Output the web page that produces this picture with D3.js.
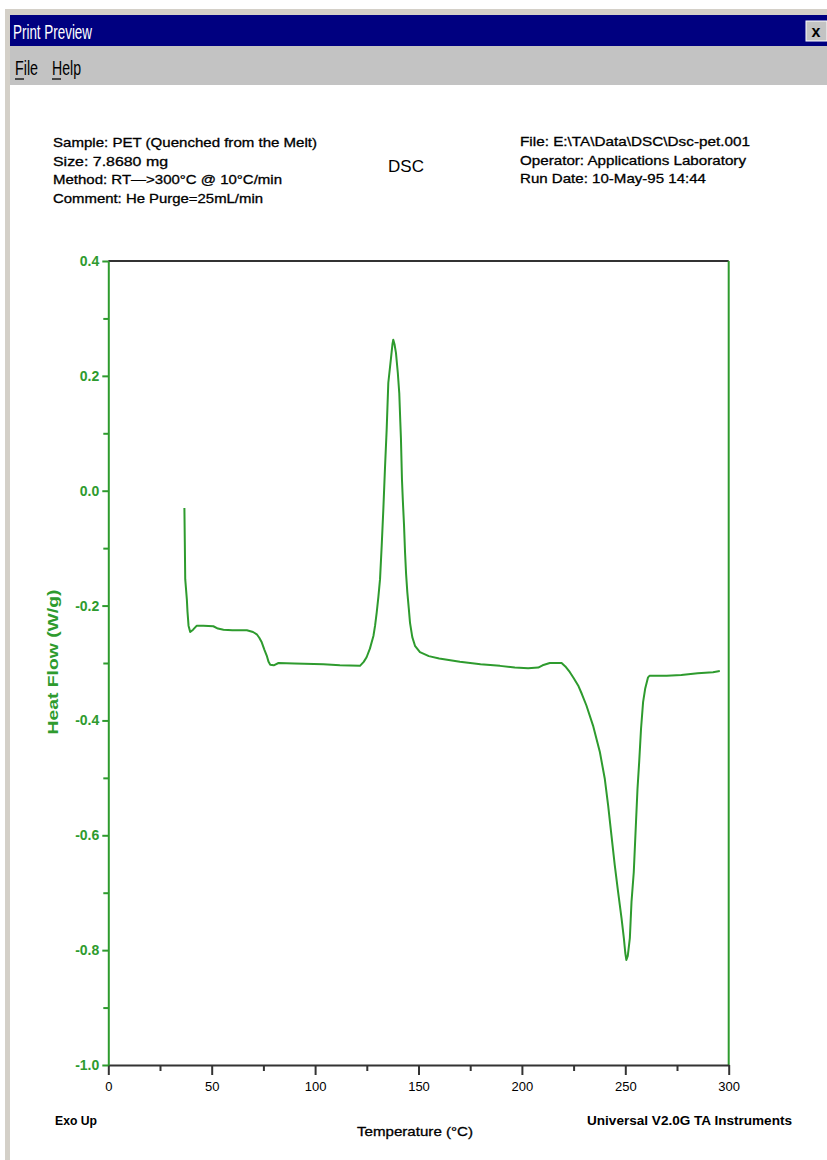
<!DOCTYPE html>
<html>
<head>
<meta charset="utf-8">
<script src="https://cdn.jsdelivr.net/npm/d3@7"></script>
<style>
  html, body { margin: 0; padding: 0; background: #fff; }
  svg { display: block; }
  text { font-family: "Liberation Sans", Arial, sans-serif; }
</style>
</head>
<body>
<div id="chart"></div>
<script>
// ---- data ----
const temperature = [36.8, 37.0, 37.2, 38.0, 38.3, 38.8, 39.6, 41.0, 42.8, 46.0, 50.8, 53.0, 55.7, 60.0, 67.0, 70.0, 71.8, 73.0, 74.2, 75.5, 76.6, 77.5, 78.3, 80.0, 82.3, 90.0, 104.0, 112.0, 121.7, 123.5, 124.9, 126.5, 128.2, 129.0, 129.8, 130.6, 131.4, 132.2, 133.0, 133.8, 134.6, 135.4, 136.7, 137.4, 137.8, 138.4, 139.1, 140.0, 140.7, 141.2, 141.5, 142.0, 142.4, 143.0, 143.5, 144.0, 144.6, 145.3, 145.9, 147.0, 148.3, 150.7, 155, 160, 170, 180, 189.4, 196.6, 203, 207.9, 210, 213.5, 219.2, 221, 223.2, 225, 227.2, 229, 231.2, 234.4, 237.7, 240.1, 241.7, 243.3, 244.9, 246.5, 248.2, 249.3, 250.0, 250.5, 251.2, 252.2, 253.0, 254.1, 255.1, 255.9, 256.7, 257.6, 258.6, 259.6, 261.0, 261.8, 270, 277.1, 285, 292.4, 295.7];
const heatFlow = [-0.030, -0.090, -0.154, -0.190, -0.211, -0.235, -0.246, -0.242, -0.235, -0.235, -0.236, -0.240, -0.242, -0.243, -0.243, -0.246, -0.250, -0.256, -0.264, -0.277, -0.287, -0.298, -0.303, -0.304, -0.300, -0.301, -0.302, -0.304, -0.305, -0.298, -0.290, -0.275, -0.253, -0.235, -0.212, -0.185, -0.154, -0.096, -0.032, 0.040, 0.106, 0.188, 0.231, 0.255, 0.263, 0.255, 0.240, 0.205, 0.170, 0.120, 0.092, 0.020, -0.015, -0.060, -0.108, -0.145, -0.177, -0.205, -0.230, -0.255, -0.270, -0.281, -0.288, -0.292, -0.298, -0.302, -0.305, -0.308, -0.309, -0.308, -0.304, -0.300, -0.300, -0.306, -0.316, -0.326, -0.339, -0.354, -0.374, -0.409, -0.455, -0.502, -0.548, -0.600, -0.652, -0.698, -0.745, -0.779, -0.805, -0.817, -0.810, -0.779, -0.716, -0.664, -0.583, -0.519, -0.473, -0.415, -0.368, -0.345, -0.325, -0.322, -0.322, -0.321, -0.318, -0.316, -0.314];
const xTicks = [0, 50, 100, 150, 200, 250, 300];
const xMinorTicks = [25, 75, 125, 175, 225, 275];
const yTicks = [0.4, 0.2, 0.0, -0.2, -0.4, -0.6, -0.8, -1.0];
const yMinorTicks = [0.3, 0.1, -0.1, -0.3, -0.5, -0.7, -0.9];
const headerLeft = ["Sample: PET (Quenched from the Melt)", "Size:  7.8680 mg", "Method: RT\u2014>300\u00B0C @ 10\u00B0C/min", "Comment: He Purge=25mL/min"];
const headerRight = ["File: E:\\TA\\Data\\DSC\\Dsc-pet.001", "Operator: Applications Laboratory", "Run Date: 10-May-95 14:44"];

// ---- layout ----
const W = 827, H = 1160;
const green = "#2e9b2e";
const svg = d3.select("#chart").append("svg").attr("width", W).attr("height", H);

// window chrome
svg.append("rect").attr("x", 0).attr("y", 0).attr("width", W).attr("height", H).attr("fill", "#fff");
svg.append("rect").attr("x", 5).attr("y", 9).attr("width", W - 5).attr("height", 6).attr("fill", "#d4d0c8");
svg.append("rect").attr("x", 5).attr("y", 9).attr("width", 5).attr("height", H - 9).attr("fill", "#d4d0c8");
svg.append("rect").attr("x", 10).attr("y", 15).attr("width", W - 10).attr("height", 31).attr("fill", "#000080");
svg.append("rect").attr("x", 10).attr("y", 46).attr("width", W - 10).attr("height", 39).attr("fill", "#c3c3c3");
svg.append("text").attr("x", 13).attr("y", 39).attr("fill", "#fff").attr("font-size", 20)
  .attr("textLength", 79).attr("lengthAdjust", "spacingAndGlyphs").text("Print Preview");
// close button
svg.append("rect").attr("x", 806).attr("y", 21).attr("width", 21).attr("height", 20).attr("fill", "#c3c3c3")
  .attr("stroke", "#fff").attr("stroke-width", 1);
svg.append("text").attr("x", 816).attr("y", 37).attr("text-anchor", "middle").attr("font-size", 16)
  .attr("font-weight", "bold").attr("fill", "#000").text("x");
// menu
const menu = [{t: "File", x: 15, w: 23}, {t: "Help", x: 52, w: 29}];
menu.forEach(m => {
  svg.append("text").attr("x", m.x).attr("y", 75).attr("font-size", 20).attr("fill", "#000")
    .attr("textLength", m.w).attr("lengthAdjust", "spacingAndGlyphs").text(m.t);
  svg.append("line").attr("x1", m.x).attr("x2", m.x + 9).attr("y1", 79).attr("y2", 79)
    .attr("stroke", "#000").attr("stroke-width", 1.3);
});

// header texts
const leftW = [264, 115, 229, 210];
headerLeft.forEach((t, i) => {
  svg.append("text").attr("x", 53).attr("y", 147 + i * 18.5).attr("font-size", 13).attr("fill", "#000")
    .attr("stroke", "#000").attr("stroke-width", 0.3)
    .attr("textLength", leftW[i]).attr("lengthAdjust", "spacingAndGlyphs").text(t);
});
const rightW = [230, 226, 186];
headerRight.forEach((t, i) => {
  svg.append("text").attr("x", 520).attr("y", 146 + i * 18.5).attr("font-size", 13).attr("fill", "#000")
    .attr("stroke", "#000").attr("stroke-width", 0.3)
    .attr("textLength", rightW[i]).attr("lengthAdjust", "spacingAndGlyphs").text(t);
});
svg.append("text").attr("x", 406).attr("y", 172).attr("text-anchor", "middle").attr("font-size", 17)
  .attr("fill", "#000").text("DSC");

// scales
const x = d3.scaleLinear().domain([0, 300]).range([108.3, 728.7]);
const y = d3.scaleLinear().domain([-1.0, 0.4]).range([1065, 261]);

// axes frame: top and bottom dark, left and right green
svg.append("line").attr("x1", x(0)).attr("x2", x(300)).attr("y1", y(0.4)).attr("y2", y(0.4))
  .attr("stroke", "#333").attr("stroke-width", 2);
svg.append("line").attr("x1", x(300)).attr("x2", x(300)).attr("y1", y(0.4)).attr("y2", y(-1.0))
  .attr("stroke", green).attr("stroke-width", 2);

// bottom axis
const xAxis = svg.append("g").attr("transform", `translate(0,${y(-1.0)})`)
  .call(d3.axisBottom(x).tickValues(xTicks).tickFormat(d3.format("d")).tickSize(10).tickSizeOuter(0).tickPadding(7));
xAxis.select(".domain").attr("stroke", "#333").attr("stroke-width", 2);
xAxis.selectAll(".tick line").attr("stroke", "#333").attr("stroke-width", 2);
xAxis.selectAll(".tick text").attr("font-size", 13).attr("fill", "#000").attr("font-family", "Liberation Sans, Arial, sans-serif");
const xMinor = svg.append("g").attr("transform", `translate(0,${y(-1.0)})`)
  .call(d3.axisBottom(x).tickValues(xMinorTicks).tickFormat("").tickSize(6).tickSizeOuter(0));
xMinor.select(".domain").remove();
xMinor.selectAll(".tick line").attr("stroke", "#333").attr("stroke-width", 2);

// left axis
const yAxis = svg.append("g").attr("transform", `translate(${x(0)},0)`)
  .call(d3.axisLeft(y).tickValues(yTicks).tickFormat(d3.format(".1f")).tickSize(6).tickSizeOuter(0).tickPadding(3));
yAxis.select(".domain").attr("stroke", green).attr("stroke-width", 2);
yAxis.selectAll(".tick line").attr("stroke", green).attr("stroke-width", 2);
yAxis.selectAll(".tick text").attr("font-size", 14).attr("fill", green).attr("font-weight", "bold")
  .attr("font-family", "Liberation Sans, Arial, sans-serif")
  .text(d => d3.format(".1f")(d).replace("\u2212", "-"));
const yMinor = svg.append("g").attr("transform", `translate(${x(0)},0)`)
  .call(d3.axisLeft(y).tickValues(yMinorTicks).tickFormat("").tickSize(5).tickSizeOuter(0));
yMinor.select(".domain").remove();
yMinor.selectAll(".tick line").attr("stroke", green).attr("stroke-width", 2);

// curve
const pts = temperature.map((t, i) => [t, heatFlow[i]]);
svg.append("path").datum(pts)
  .attr("fill", "none").attr("stroke", green).attr("stroke-width", 2).attr("stroke-linejoin", "round")
  .attr("d", d3.line().x(d => x(d[0])).y(d => y(d[1])));

// axis titles
svg.append("text").attr("transform", `translate(58,662) rotate(-90)`).attr("text-anchor", "middle")
  .attr("font-size", 15).attr("font-weight", "bold").attr("fill", green)
  .attr("textLength", 145).attr("lengthAdjust", "spacingAndGlyphs").text("Heat Flow (W/g)");
svg.append("text").attr("x", 415).attr("y", 1136).attr("text-anchor", "middle").attr("font-size", 13)
  .attr("fill", "#000").attr("stroke", "#000").attr("stroke-width", 0.3)
  .attr("textLength", 116).attr("lengthAdjust", "spacingAndGlyphs").text("Temperature (\u00B0C)");
svg.append("text").attr("x", 55).attr("y", 1125).attr("font-size", 12).attr("fill", "#000")
  .attr("font-weight", "bold").attr("textLength", 42).attr("lengthAdjust", "spacingAndGlyphs").text("Exo Up");
svg.append("text").attr("x", 587).attr("y", 1125).attr("font-size", 12).attr("fill", "#000")
  .attr("font-weight", "bold").attr("textLength", 205).attr("lengthAdjust", "spacingAndGlyphs").text("Universal V2.0G TA Instruments");
</script>
</body>
</html>
